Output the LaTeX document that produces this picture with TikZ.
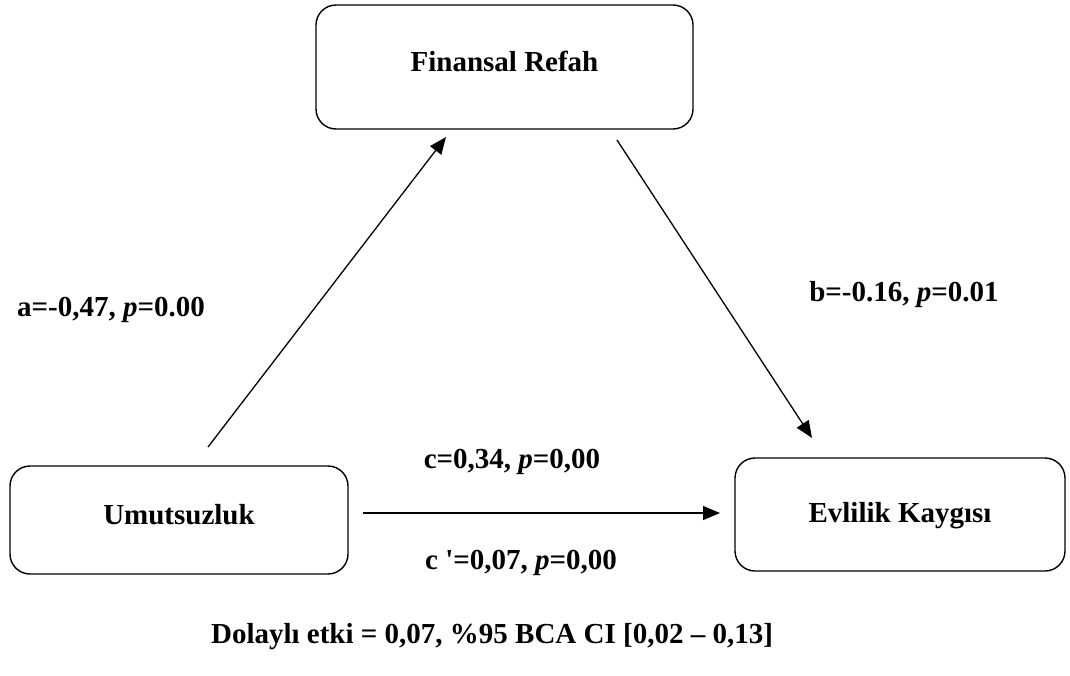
\documentclass[tikz,border=0pt]{standalone}
\usepackage{fontspec}
\setmainfont{Liberation Serif}
\usetikzlibrary{positioning,arrows.meta}

\begin{document}
\begin{tikzpicture} [x=1pt, y=-1pt,
  every node/.style={font=\fontsize{29}{33}\selectfont\bfseries}]
\tikzstyle{var}=[draw, line width=1.4pt, rounded corners=20pt, text height=20pt, text depth=12pt]
\tikzstyle{path}=[-{Triangle[length=17pt,width=14pt]}, line width=1.3pt]
\useasboundingbox (0,0) rectangle (1070,675);

% variables
\node [var, minimum width=377pt, minimum height=124pt] (refah) at (504.5,67) {Finansal Refah};
\node [var, minimum width=338pt, minimum height=108pt] (umut) at (179,520) {Umutsuzluk};
\node [var, text depth=4pt, minimum width=330pt, minimum height=113pt] (kaygi) at (900,514.5) {Evlilik Kaygısı};

% arrow ends
\coordinate (aS) at (208,447);
\coordinate (aE) at (446,137);
\coordinate (bS) at (617,140);
\coordinate (bE) at (812,438);
\coordinate (cS) at (363,513);
\coordinate (cE) at (720,513);

\draw [path] (aS) -- (aE);
\draw [path] (bS) -- (bE);
\draw [path] (cS) -- (cE);

% coefficients
\node (apath) at (111,310) {a=-0,47, \textit{p}=0.00};
\node (bpath) at (904,295) {b=-0.16, \textit{p}=0.01};
\node (cpath) at (512,462) {c=0,34, \textit{p}=0,00};
\node (cdash) at (521,563) {c \textquotesingle=0,07, \textit{p}=0,00};
\node (indirect) at (492,637) {Dolaylı etki = 0,07, \%95 BCA CI [0,02 -- 0,13]};
\end{tikzpicture}
\end{document}
